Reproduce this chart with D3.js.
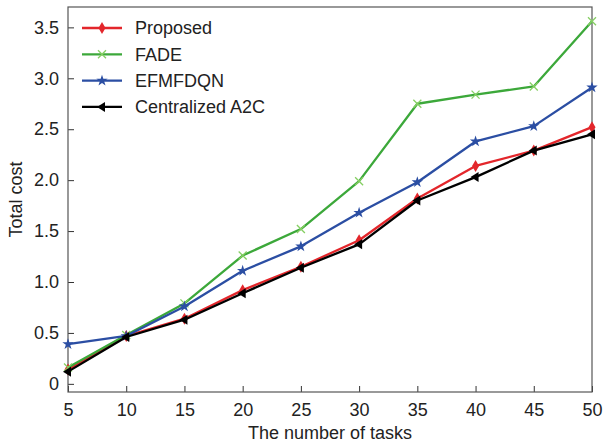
<!DOCTYPE html>
<html><head><meta charset="utf-8">
<script src="https://cdn.jsdelivr.net/npm/d3@7"></script>
<style>body{margin:0;background:#fff}svg{display:block}text{font-family:"Liberation Sans",Arial,sans-serif}</style>
</head><body>
<script>
const tasks = [5,10,15,20,25,30,35,40,45,50];
const proposed = [0.14,0.47,0.64,0.92,1.15,1.41,1.82,2.14,2.29,2.52];
const fade     = [0.16,0.48,0.79,1.26,1.52,1.99,2.75,2.84,2.92,3.56];
const efmfdqn  = [0.39,0.47,0.76,1.11,1.35,1.68,1.98,2.38,2.53,2.91];
const a2c      = [0.12,0.46,0.63,0.89,1.14,1.37,1.80,2.03,2.29,2.45];
const seriesNames = ["Proposed","FADE","EFMFDQN","Centralized A2C"];
const yTicks = [0,0.5,1.0,1.5,2.0,2.5,3.0,3.5];
const yTickLabels = ["0","0.5","1.0","1.5","2.0","2.5","3.0","3.5"];
const xLabel = "The number of tasks";
const yLabel = "Total cost";

const W=605,H=444, L=68,R=592,T=7,B=392;
const FS=18;
const svg=d3.select("body").append("svg").attr("width",W).attr("height",H);
const x=d3.scaleLinear().domain([5,50]).range([L,R]);
const y=d3.scaleLinear().domain([-0.08,3.7]).range([B,T]);

const series=[
 {name:seriesNames[0],vals:proposed,color:"#e3262b",marker:"diamond"},
 {name:seriesNames[1],vals:fade,color:"#3ca83a",marker:"x",mcolor:"#86cf63"},
 {name:seriesNames[2],vals:efmfdqn,color:"#2b4ea3",marker:"star"},
 {name:seriesNames[3],vals:a2c,color:"#000000",marker:"tri"}
];

const ax=svg.append("g").attr("transform",`translate(0,${B})`)
 .call(d3.axisBottom(x).tickValues(tasks).tickSizeInner(-6).tickSizeOuter(0).tickPadding(11));
const ay=svg.append("g").attr("transform",`translate(${L},0)`)
 .call(d3.axisLeft(y).tickValues(yTicks).tickFormat((d,i)=>yTickLabels[i]).tickSizeInner(-6).tickSizeOuter(0).tickPadding(9));
[ax,ay].forEach(g=>{g.select(".domain").remove();g.selectAll("line").attr("stroke","#333");
 g.selectAll("text").attr("font-size",FS).attr("fill","#222");});
ax.selectAll("text").attr("dy","0.71em");

svg.append("rect").attr("x",L).attr("y",T).attr("width",R-L).attr("height",B-T)
 .attr("fill","none").attr("stroke","#555").attr("stroke-width",1.2);

function drawMarker(g,type,cx,cy,color){
 if(type==="diamond"){
  g.append("path").attr("d",`M${cx},${cy-6}L${cx+3.5},${cy}L${cx},${cy+6}L${cx-3.5},${cy}Z`).attr("fill",color);
 } else if(type==="x"){
  g.append("path").attr("d",`M${cx-4},${cy-4}L${cx+4},${cy+4}M${cx-4},${cy+4}L${cx+4},${cy-4}`).attr("stroke",color).attr("stroke-width",1.3).attr("fill","none");
 } else if(type==="star"){
  g.append("path").attr("d",d3.symbol().type(d3.symbolStar).size(40)()).attr("transform",`translate(${cx},${cy})`).attr("fill",color);
 } else if(type==="tri"){
  g.append("path").attr("d",`M${cx-5},${cy}L${cx+3},${cy-5}L${cx+3},${cy+5}Z`).attr("fill",color);
 }
}

const line=d3.line().x((d,i)=>x(tasks[i])).y(d=>y(d));
const plot=svg.append("g");
series.forEach(s=>{
 plot.append("path").attr("d",line(s.vals)).attr("fill","none").attr("stroke",s.color).attr("stroke-width",2.3).attr("stroke-linejoin","round");
 s.vals.forEach((v,i)=>drawMarker(plot,s.marker,x(tasks[i]),y(v),s.mcolor||s.color));
});

const lg=svg.append("g");
series.forEach((s,i)=>{
 const yy=28+i*26.3;
 lg.append("line").attr("x1",82).attr("x2",122).attr("y1",yy).attr("y2",yy).attr("stroke",s.color).attr("stroke-width",2.3);
 drawMarker(lg,s.marker,102,yy,s.mcolor||s.color);
 lg.append("text").attr("x",135).attr("y",yy).attr("dy","0.36em").attr("font-size",FS).attr("fill","#222").text(s.name);
});

svg.append("text").attr("x",(L+R)/2).attr("y",439).attr("text-anchor","middle").attr("font-size",FS).attr("fill","#222").text(xLabel);
svg.append("text").attr("transform",`translate(22,${(T+B)/2}) rotate(-90)`).attr("text-anchor","middle").attr("font-size",FS).attr("fill","#222").text(yLabel);
</script>
</body></html>
